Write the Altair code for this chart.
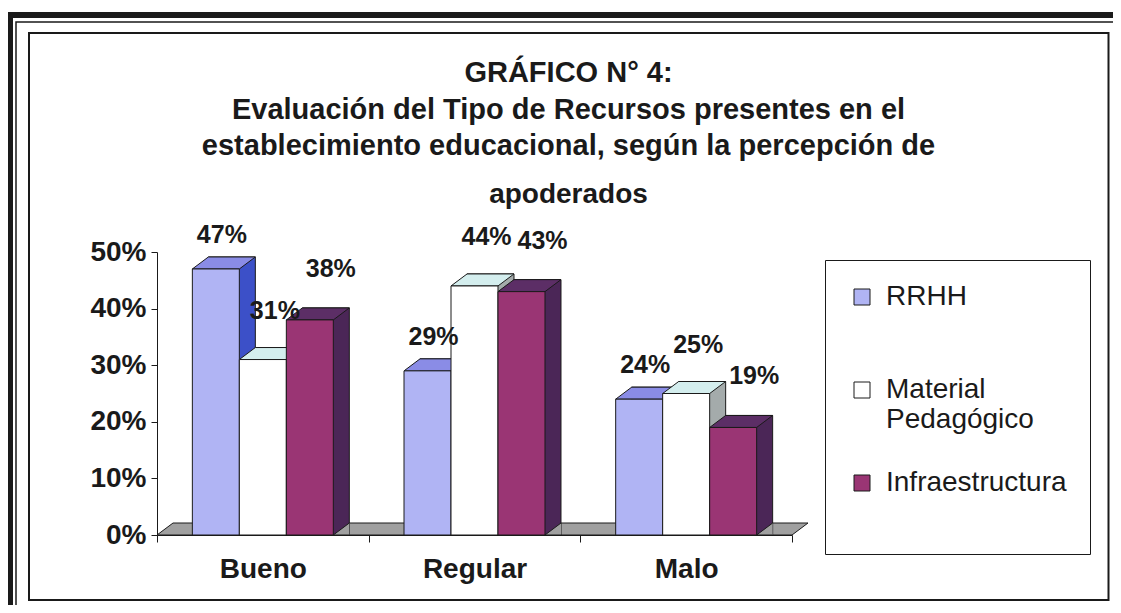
import json
import altair as alt
import pandas as pd

# ---------------- data ----------------
categories = ["Bueno", "Regular", "Malo"]
series = ["RRHH", "Material Pedagógico", "Infraestructura"]
rrhh = [47, 29, 24]
material = [31, 44, 25]
infraestructura = [38, 43, 19]
y_ticks = [0, 10, 20, 30, 40, 50]

title_lines = [
    "GRÁFICO N° 4:",
    "Evaluación del Tipo de Recursos presentes en el",
    "establecimiento educacional, según  la percepción de",
]
subtitle_line = "apoderados"

# ---------------- style ----------------
FONT = "Liberation Sans"
INK = "#1a1a1a"
front_colors = ["#b0b4f4", "#ffffff", "#9a3574"]
top_colors = ["#8a8ce6", "#d4eeee", "#5c2e66"]
side_colors = ["#3c50c8", "#a4abab", "#4b2657"]
FLOOR = "#a0a0a0"

W, H = 635, 283
DX, DY = 16, 12          # 3D depth in pixels
BW = 0.222               # bar width in category units
BAR_PX = BW * W / 3

rows = []
for si, (s, vals) in enumerate(zip(series, [rrhh, material, infraestructura])):
    for ci, (c, v) in enumerate(zip(categories, vals)):
        rows.append({"cat": c, "ser": s, "value": v, "ci": ci, "si": si})
df = pd.DataFrame(rows)


def make_path(points, r, close=True):
    s = "M " + " L ".join(f"{x / r:.5f} {y / r:.5f}" for x, y in points)
    return s + (" Z" if close else "")


SYM_R = 50
SYM_SIZE = (2 * SYM_R) ** 2
top_path = make_path([(-BAR_PX / 2, 0), (BAR_PX / 2, 0),
                      (BAR_PX / 2 + DX, -DY), (-BAR_PX / 2 + DX, -DY)], SYM_R)
tri_path = make_path([(BAR_PX / 2 + DX, -DY), (BAR_PX / 2, 0),
                      (BAR_PX / 2 + DX, 0)], SYM_R, close=False)
FLOOR_R = 400
FLOOR_SIZE = (2 * FLOOR_R) ** 2
floor_path = make_path([(-W / 2, 0), (W / 2, 0),
                        (W / 2 + DX, -DY), (-W / 2 + DX, -DY)], FLOOR_R)

xs = alt.Scale(domain=[0, 3], nice=False, zero=False)
ys = alt.Scale(domain=[0, 50], nice=False)

x_axis = alt.Axis(
    values=[0, 0.5, 1, 1.5, 2, 2.5, 3],
    labelExpr=f"datum.value % 1 == 0.5 ? {json.dumps(categories, ensure_ascii=False)}[floor(datum.value)] : ''",
    title=None, grid=False, domainColor=INK, tickColor=INK, tickSize=7,
    tickOpacity={"condition": {"test": "datum.value % 1 == 0", "value": 1}, "value": 0},
    labelFont=FONT, labelFontSize=28, labelFontWeight="bold", labelColor=INK,
    labelPadding=13, labelOverlap=False, labelFlush=False,
)
y_axis = alt.Axis(
    values=y_ticks, labelExpr="datum.value + '%'", title=None, grid=False,
    domainColor=INK, tickColor=INK, tickSize=6, labelPadding=5,
    labelFont=FONT, labelFontSize=28, labelFontWeight="bold", labelColor=INK,
)

base = alt.Chart(df).transform_calculate(
    xc=f"datum.ci + 0.5 + (datum.si - 1) * {BW}",
).transform_calculate(
    x1=f"datum.xc - {BW / 2}",
    x2=f"datum.xc + {BW / 2}",
    lab="datum.value + '%'",
)


def col(rng, legend=None):
    if legend is None:
        return alt.Color("ser:N", scale=alt.Scale(domain=series, range=rng), legend=None)
    return alt.Color("ser:N", scale=alt.Scale(domain=series, range=rng), legend=legend)


def xq(field):
    return alt.X(field, type="quantitative", scale=xs, axis=x_axis)


def yq(field):
    return alt.Y(field, type="quantitative", scale=ys, axis=y_axis)


one = pd.DataFrame({"k": [0]})

frame_outer = alt.Chart(one).mark_rect(fillOpacity=0, stroke=INK, strokeWidth=6).encode(
    x=alt.value(-147), x2=alt.value(1000), y=alt.value(-237), y2=alt.value(400))
frame_thin = alt.Chart(one).mark_rect(fillOpacity=0, stroke=INK, strokeWidth=1.5).encode(
    x=alt.value(-141), x2=alt.value(990), y=alt.value(-230), y2=alt.value(390))
frame_inner = alt.Chart(one).mark_rect(fillOpacity=0, stroke=INK, strokeWidth=2).encode(
    x=alt.value(-128), x2=alt.value(951.5), y=alt.value(-219), y2=alt.value(348))

floor = alt.Chart(one).mark_point(
    shape=floor_path, size=FLOOR_SIZE, filled=True, fill=FLOOR, stroke=INK,
    strokeWidth=1, opacity=1,
).encode(
    x=alt.XDatum(1.5, type="quantitative", scale=xs, axis=x_axis),
    y=alt.YDatum(0, type="quantitative", scale=ys, axis=y_axis),
)

back = base.mark_rect(xOffset=DX, x2Offset=DX, yOffset=-DY, stroke=INK, strokeWidth=1).encode(
    x=xq("x1"), x2="x2:Q",
    y=yq("value"), y2=alt.Y2Datum(0),
    color=col(side_colors),
)

tri = base.mark_point(
    shape=tri_path, size=SYM_SIZE, filled=True, fill=FLOOR, stroke=INK,
    strokeWidth=1, opacity=1,
).encode(
    x=xq("xc"),
    y=alt.YDatum(0, type="quantitative", scale=ys, axis=y_axis),
)

top = base.mark_point(
    shape=top_path, size=SYM_SIZE, filled=True, stroke=INK, strokeWidth=1, opacity=1,
).encode(
    x=xq("xc"),
    y=yq("value"),
    color=col(top_colors),
)

# "Material Pedagógico" wraps onto two lines; "RRHH" gets a blank second line
# so its row is as tall and the gaps between entries stay balanced.
legend = alt.Legend(
    title=" ", titleOrient="bottom", titleFontSize=14, titlePadding=20,
    orient="none", legendX=668, legendY=8,
    symbolType="square", symbolSize=256, symbolStrokeColor=INK, symbolStrokeWidth=1,
    symbolOpacity=1,
    labelFont=FONT, labelFontSize=28, labelColor=INK, labelOffset=10, labelLimit=400,
    labelExpr=(
        "datum.label == 'Material Pedagógico' ? ['Material', 'Pedagógico'] : "
        "datum.label == 'RRHH' ? ['RRHH', ''] : datum.label"
    ),
    rowPadding=35, padding=23, strokeColor=INK, fillColor="white",
)

front = base.mark_rect(stroke=INK, strokeWidth=1).encode(
    x=xq("x1"), x2="x2:Q",
    y=yq("value"), y2=alt.Y2Datum(0),
    color=col(front_colors, legend),
)

label_offsets = [(6, -34), (12, -49), (21, -51)]
label_layers = []
for i, (ddx, ddy) in enumerate(label_offsets):
    label_layers.append(
        base.transform_filter(f"datum.si == {i}").mark_text(
            dx=ddx, dy=ddy, font=FONT, fontSize=25, fontWeight="bold", color=INK,
            align="center", baseline="middle",
        ).encode(
            x=xq("xc"),
            y=yq("value"),
            text="lab:N",
        )
    )

# the outer frame reaches y = -240 relative to the plot top; the title is
# laid out against that bound, so its offset is negative to sit inside.
chart = alt.layer(
    frame_outer, frame_thin, frame_inner, floor, back, tri, top, front, *label_layers
).resolve_scale(color="independent").properties(
    width=W, height=H,
    autosize=alt.AutoSizeParams(type="none"),
    padding={"left": 149, "top": 244, "right": 321, "bottom": 70},
    title=alt.TitleParams(
        text=title_lines, subtitle=subtitle_line,
        font=FONT, fontSize=29, fontWeight="bold", color=INK, lineHeight=36.5,
        subtitleFont=FONT, subtitleFontSize=28, subtitleFontWeight="bold",
        subtitleColor=INK, subtitlePadding=20,
        anchor="middle", frame="group", offset=-197, dx=94,
    ),
).configure(background="white").configure_view(strokeWidth=0)

chart.save("out.html", embed_options={"renderer": "svg", "actions": False})
